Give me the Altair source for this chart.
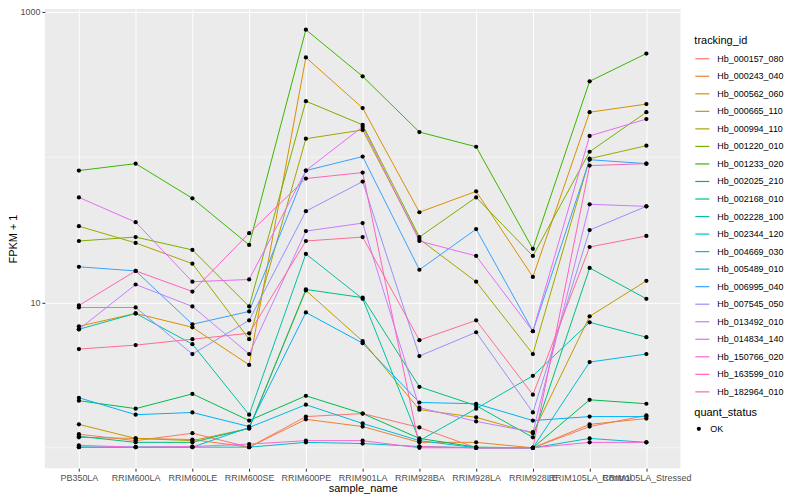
import altair as alt
import pandas as pd

samples = ["PB350LA", "RRIM600LA", "RRIM600LE", "RRIM600SE", "RRIM600PE",
           "RRIM901LA", "RRIM928BA", "RRIM928LA", "RRIM928LE",
           "RRIM105LA_Control", "RRIM105LA_Stressed"]

tracking_ids = ["Hb_000157_080", "Hb_000243_040", "Hb_000562_060", "Hb_000665_110",
                "Hb_000994_110", "Hb_001220_010", "Hb_001233_020", "Hb_002025_210",
                "Hb_002168_010", "Hb_002228_100", "Hb_002344_120", "Hb_004669_030",
                "Hb_005489_010", "Hb_006995_040", "Hb_007545_050", "Hb_013492_010",
                "Hb_014834_140", "Hb_150766_020", "Hb_163599_010", "Hb_182964_010"]

colors = ["#F8766D", "#EA8331", "#D89000", "#C09B00", "#A3A500", "#7CAE00", "#39B600",
          "#00BB4E", "#00BF7D", "#00C1A3", "#00BFC4", "#00BAE0", "#00B0F6", "#35A2FF",
          "#9590FF", "#C77CFF", "#E76BF3", "#FA62DB", "#FF62BC", "#FF6C91"]

# FPKM + 1 values per sample (order of `samples`)
hb_000157_080 = [1.24, 1.12, 1.26, 1.01, 1.64, 1.72, 1.38, 1.00, 1.00, 1.40, 1.67]
hb_000243_040 = [1.18, 1.16, 1.14, 1.01, 1.57, 1.40, 1.09, 1.09, 1.00, 1.45, 1.59]
hb_000562_060 = [6.86, 8.41, 6.75, 3.72, 486, 218, 41.8, 58.2, 15.0, 204, 232]
hb_000665_110 = [1.45, 1.16, 1.12, 1.36, 12.1, 5.42, 1.83, 1.62, 1.26, 8.03, 14.1]
hb_000994_110 = [33.5, 25.7, 18.5, 5.59, 134, 154, 27.3, 13.9, 4.42, 97.7, 120]
hb_001220_010 = [26.5, 28.2, 23.0, 9.39, 243, 167, 28.2, 52.9, 20.9, 109, 204]
hb_001233_020 = [80.9, 90.3, 52.1, 24.9, 754, 360, 149, 118, 23.4, 333, 517]
hb_002025_210 = [2.11, 1.86, 2.35, 1.54, 2.28, 1.72, 1.16, 1.01, 1.00, 2.14, 2.01]
hb_002168_010 = [1.20, 1.09, 1.09, 1.36, 12.3, 10.8, 2.63, 1.95, 1.18, 17.3, 10.6]
hb_002228_100 = [6.54, 8.41, 5.17, 1.69, 21.6, 10.6, 1.12, 1.86, 3.13, 7.30, 5.77]
hb_002344_120 = [1.01, 1.01, 1.01, 1.01, 1.09, 1.07, 1.02, 1.00, 1.00, 1.16, 1.09]
hb_004669_030 = [1.01, 1.01, 1.01, 1.38, 1.98, 1.47, 1.12, 1.00, 1.00, 3.89, 4.42]
hb_005489_010 = [2.21, 1.69, 1.75, 1.40, 8.54, 5.25, 2.05, 2.01, 1.54, 1.64, 1.64]
hb_006995_040 = [17.6, 16.5, 7.08, 8.68, 80.9, 101, 16.8, 32.0, 6.34, 96.1, 90.3]
hb_007545_050 = [9.24, 9.24, 4.42, 7.54, 42.5, 68.0, 4.28, 6.24, 1.75, 31.5, 45.9]
hb_013492_010 = [6.54, 13.3, 9.39, 4.42, 31.0, 35.2, 1.89, 1.52, 1.28, 47.4, 45.9]
hb_014834_140 = [52.9, 35.7, 13.9, 14.4, 80.9, 162, 26.5, 20.9, 6.34, 140, 183]
hb_150766_020 = [1.04, 1.01, 1.02, 1.06, 1.12, 1.12, 1.00, 1.00, 1.00, 1.09, 1.09]
hb_163599_010 = [9.54, 16.5, 11.9, 30.0, 71.3, 78.4, 1.02, 1.00, 1.00, 87.5, 90.3]
hb_182964_010 = [4.78, 5.09, 5.59, 6.14, 26.5, 28.2, 5.50, 7.54, 2.32, 24.1, 28.7]

series = [hb_000157_080, hb_000243_040, hb_000562_060, hb_000665_110, hb_000994_110,
          hb_001220_010, hb_001233_020, hb_002025_210, hb_002168_010, hb_002228_100,
          hb_002344_120, hb_004669_030, hb_005489_010, hb_006995_040, hb_007545_050,
          hb_013492_010, hb_014834_140, hb_150766_020, hb_163599_010, hb_182964_010]

minor_breaks = [1, 100]
major_breaks = [10, 1000]

rows = []
for tid, vals in zip(tracking_ids, series):
    for i, (s, v) in enumerate(zip(samples, vals)):
        rows.append({"tracking_id": tid, "sample_name": s, "idx": i,
                     "fpkm1": v, "quant_status": "OK"})
df = pd.DataFrame(rows)
minor_df = pd.DataFrame({"fpkm1": minor_breaks})

FONT = "Liberation Sans"
H = 461

x_enc = alt.X("sample_name:N", sort=samples,
              scale=alt.Scale(type="point", padding=0.6),
              axis=alt.Axis(title="sample_name", labelAngle=0, labelOverlap=False,
                            grid=True, domain=False, tickSize=3, labelPadding=2,
                            titlePadding=0))
y_scale = alt.Scale(type="log", domain=[0.724, 1048], nice=False)
y_axis = alt.Axis(title="FPKM + 1", values=major_breaks, format="d",
                  grid=True, domain=False, tickSize=3, labelPadding=2,
                  titleX=-31, titleY=H / 2, titleBaseline="middle",
                  titleAngle=270)
y_enc = alt.Y("fpkm1:Q", scale=y_scale, axis=y_axis)

minor = alt.Chart(minor_df).mark_rule(color="white", strokeWidth=0.5).encode(
    y=y_enc
)

lines = alt.Chart(df).mark_line(strokeWidth=1).encode(
    x=x_enc, y=y_enc,
    color=alt.Color("tracking_id:N",
                    scale=alt.Scale(domain=tracking_ids, range=colors),
                    legend=alt.Legend(title="tracking_id", symbolType="stroke",
                                      symbolSize=200, symbolStrokeWidth=1.2,
                                      rowPadding=4.6, labelFontSize=9,
                                      labelOffset=7,
                                      titleFontSize=11, titlePadding=5,
                                      orient="none", legendX=652, legendY=26)),
    order=alt.Order("idx:Q"),
    detail="tracking_id:N",
)

points = alt.Chart(df).mark_point(filled=True, color="black", size=18, opacity=1).encode(
    x=x_enc, y=y_enc,
    shape=alt.Shape("quant_status:N", scale=alt.Scale(range=["circle"]),
                    legend=alt.Legend(title="quant_status", symbolSize=18,
                                      symbolFillColor="black", symbolStrokeColor="black",
                                      labelFontSize=9, labelOffset=7,
                                      titleFontSize=11,
                                      titlePadding=6, orient="none",
                                      legendX=652, legendY=400)),
)

chart = alt.layer(minor, lines, points).properties(
    width=638, height=H,
    autosize=alt.AutoSizeParams(type="none"),
    padding={"left": 37, "top": 0, "right": 112, "bottom": 30},
).configure_view(
    fill="#EBEBEB", stroke=None
).configure_axis(
    gridColor="white", gridWidth=1, tickColor="#333333", labelColor="#4D4D4D",
    labelFont=FONT, labelFontSize=9, titleFont=FONT, titleFontSize=11,
    titleColor="black", titleFontWeight="normal"
).configure_legend(
    labelFont=FONT, titleFont=FONT, titleColor="black", labelColor="black",
    titleFontWeight="normal", padding=0
)

chart.save("out.html", embed_options={"renderer": "svg", "actions": False})
